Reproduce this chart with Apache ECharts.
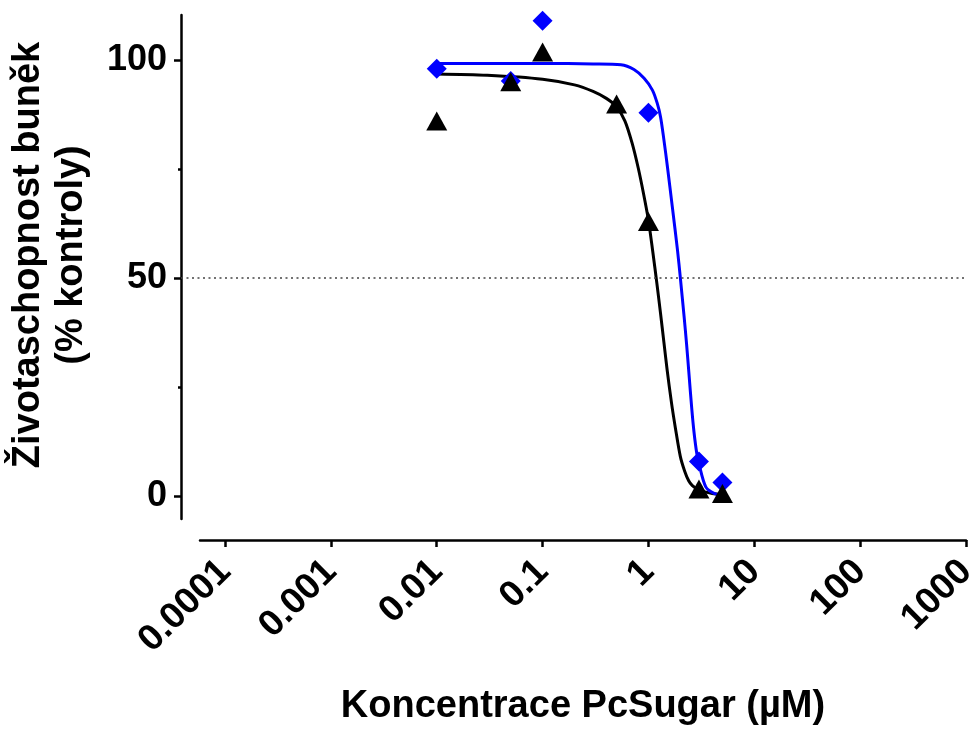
<!DOCTYPE html>
<html>
<head>
<meta charset="utf-8">
<script src="https://cdn.jsdelivr.net/npm/echarts@6/dist/echarts.min.js"></script>
<style>
  html, body { margin: 0; padding: 0; background: #ffffff; }
  #chart { width: 978px; height: 729px; }
</style>
</head>
<body>
<div id="chart"></div>
<script>
// Measured viability (% of control) for each PcSugar concentration (µM)
const blackConc = [0.01, 0.05, 0.1, 0.5, 1, 3, 5];
const blackViability = [86.0, 95.0, 101.8, 89.9, 63.0, 1.7, 0.7];

const blueConc = [0.01, 0.05, 0.1, 1, 3, 5];
const blueViability = [98.0, 95.2, 109.0, 87.9, 8.0, 3.2];

// Fitted dose-response curves, sampled along the curve
const blackFitConc = [0.01, 0.03, 0.1, 0.2, 0.3, 0.4, 0.5, 0.6, 0.7, 0.8, 0.9, 1.0, 1.1, 1.2, 1.3, 1.4, 1.5, 1.65, 1.8, 2.0, 2.2, 2.4, 2.6, 3.0, 3.5, 4.0, 5.0];
const blackFitViability = [96.8, 96.5, 95.6, 94.3, 92.8, 91.2, 89.3, 86.0, 81.0, 75.3, 69.3, 63.3, 56.0, 48.9, 42.0, 35.3, 29.1, 21.5, 15.6, 9.2, 5.8, 3.6, 2.5, 1.5, 1.0, 0.7, 0.45];

const blueFitConc = [0.01, 0.1, 0.3, 0.55, 0.73, 0.91, 1.09, 1.21, 1.3, 1.4, 1.51, 1.68, 1.88, 2.0, 2.17, 2.29, 2.42, 2.56, 2.69, 2.86, 3.0, 3.48, 4.17, 5.0];
const blueFitViability = [99.2, 99.2, 99.1, 98.9, 97.8, 95.8, 93.1, 90.1, 87.0, 81.7, 75.6, 66.4, 56.5, 50.2, 41.3, 35.0, 27.8, 20.4, 14.9, 9.9, 7.5, 2.2, 0.7, 0.3];

// Axis ticks
const xTickValues = [0.0001, 0.001, 0.01, 0.1, 1, 10, 100, 1000];
const xTickLabels = ['0.0001', '0.001', '0.01', '0.1', '1', '10', '100', '1000'];
const yTickValues = [0, 50, 100];
const yTickLabels = ['0', '50', '100'];
const yMinorTickValues = [25, 75];
const halfLine = 50;

const FONT = "'Liberation Sans', Arial, Helvetica, sans-serif";

// Layout: plotting grid starts at the y axis; the visible x axis is offset to the right
const PLOT_LEFT = 181, AXIS_LEFT = 200, RIGHT = 12, TOP = 15, PLOT_H = 504, XAXIS_Y = 540;
const X_MAX_EXP = 3;
const X_MIN_EXP_AXIS = -4.2365;
const axisWidth = 978 - RIGHT - AXIS_LEFT;
const plotWidth = 978 - RIGHT - PLOT_LEFT;
const X_MIN_EXP_PLOT = X_MAX_EXP - (plotWidth / axisWidth) * (X_MAX_EXP - X_MIN_EXP_AXIS);

const Y_MIN = -5.15, Y_MAX = 110.3;

const pairs = (xs, ys) => xs.map((x, i) => [x, ys[i]]);

function nearestLabel(v) {
  let best = 0;
  for (let i = 1; i < xTickValues.length; i++) {
    if (Math.abs(Math.log10(v / xTickValues[i])) < Math.abs(Math.log10(v / xTickValues[best]))) best = i;
  }
  return xTickLabels[best];
}

const chart = echarts.init(document.getElementById('chart'), null, { renderer: 'canvas' });

chart.setOption({
  animation: false,
  backgroundColor: '#ffffff',
  grid: [
    { left: PLOT_LEFT, right: RIGHT, top: TOP, height: PLOT_H, outerBoundsMode: 'none', containLabel: false },
    { left: AXIS_LEFT, right: RIGHT, top: TOP, height: XAXIS_Y - TOP, outerBoundsMode: 'none', containLabel: false }
  ],
  xAxis: [
    {
      gridIndex: 0,
      type: 'log',
      logBase: 10,
      min: Math.pow(10, X_MIN_EXP_PLOT),
      max: Math.pow(10, X_MAX_EXP),
      axisLine: { show: false },
      axisTick: { show: false },
      axisLabel: { show: false },
      splitLine: { show: false },
      minorTick: { show: false }
    },
    {
      gridIndex: 1,
      type: 'log',
      logBase: 10,
      min: Math.pow(10, X_MIN_EXP_AXIS),
      max: Math.pow(10, X_MAX_EXP),
      axisLine: { show: true, lineStyle: { color: '#000', width: 2.5 } },
      axisTick: { show: true, length: 7, lineStyle: { color: '#000', width: 2.5 }, customValues: xTickValues },
      axisLabel: {
        show: true,
        customValues: xTickValues,
        rotate: 45,
        margin: 26,
        color: '#000',
        fontFamily: FONT,
        fontWeight: 'bold',
        fontSize: 37,
        formatter: nearestLabel
      },
      splitLine: { show: false },
      name: 'Koncentrace PcSugar (µM)',
      nameLocation: 'middle',
      nameGap: 148,
      nameTextStyle: { color: '#000', fontFamily: FONT, fontWeight: 'bold', fontSize: 38 }
    }
  ],
  yAxis: [
    {
      gridIndex: 0,
      type: 'value',
      min: Y_MIN,
      max: Y_MAX,
      axisLine: { show: true, lineStyle: { color: '#000', width: 2.5 } },
      axisTick: { show: true, length: 7, lineStyle: { color: '#000', width: 2.5 }, customValues: yTickValues },
      axisLabel: {
        show: true,
        customValues: yTickValues,
        margin: 14,
        color: '#000',
        fontFamily: FONT,
        fontWeight: 'bold',
        fontSize: 36,
        formatter: function (v) {
          const i = yTickValues.indexOf(Math.round(v));
          return i >= 0 ? yTickLabels[i] : '';
        }
      },
      splitLine: { show: false },
      name: 'Životaschopnost buněk\n(% kontroly)',
      nameLocation: 'middle',
      nameRotate: 90,
      nameGap: 88,
      nameTextStyle: {
        color: '#000', fontFamily: FONT, fontWeight: 'bold', fontSize: 38, lineHeight: 43,
        align: 'center', padding: [0, 0, 0, 24]
      }
    },
    {
      gridIndex: 0,
      type: 'value',
      min: Y_MIN,
      max: Y_MAX,
      position: 'left',
      axisLine: { show: false },
      axisTick: { show: true, length: 3, lineStyle: { color: '#000', width: 2.5 }, customValues: yMinorTickValues },
      axisLabel: { show: false },
      splitLine: { show: false }
    },
    {
      gridIndex: 1,
      type: 'value',
      min: 0,
      max: 1,
      show: false
    }
  ],
  series: [
    {
      name: 'fit-black',
      type: 'line',
      xAxisIndex: 0,
      yAxisIndex: 0,
      data: pairs(blackFitConc, blackFitViability),
      smooth: 0.3,
      symbol: 'none',
      lineStyle: { color: '#000000', width: 3 },
      z: 2,
      markLine: {
        silent: true,
        symbol: 'none',
        label: { show: false },
        lineStyle: { color: '#444444', width: 1.6, type: [2, 3.5] },
        data: [{ yAxis: halfLine }]
      }
    },
    {
      name: 'fit-blue',
      type: 'line',
      xAxisIndex: 0,
      yAxisIndex: 0,
      data: pairs(blueFitConc, blueFitViability),
      smooth: 0.3,
      symbol: 'none',
      lineStyle: { color: '#0000ff', width: 3 },
      z: 3
    },
    {
      name: 'blue',
      type: 'scatter',
      xAxisIndex: 0,
      yAxisIndex: 0,
      data: pairs(blueConc, blueViability),
      symbol: 'diamond',
      symbolSize: [20, 20],
      itemStyle: { color: '#0000ff', opacity: 1 },
      z: 4
    },
    {
      name: 'black',
      type: 'scatter',
      xAxisIndex: 0,
      yAxisIndex: 0,
      data: pairs(blackConc, blackViability),
      symbol: 'triangle',
      symbolSize: [21, 19],
      itemStyle: { color: '#000000', opacity: 1 },
      z: 5
    }
  ]
});
</script>
</body>
</html>
